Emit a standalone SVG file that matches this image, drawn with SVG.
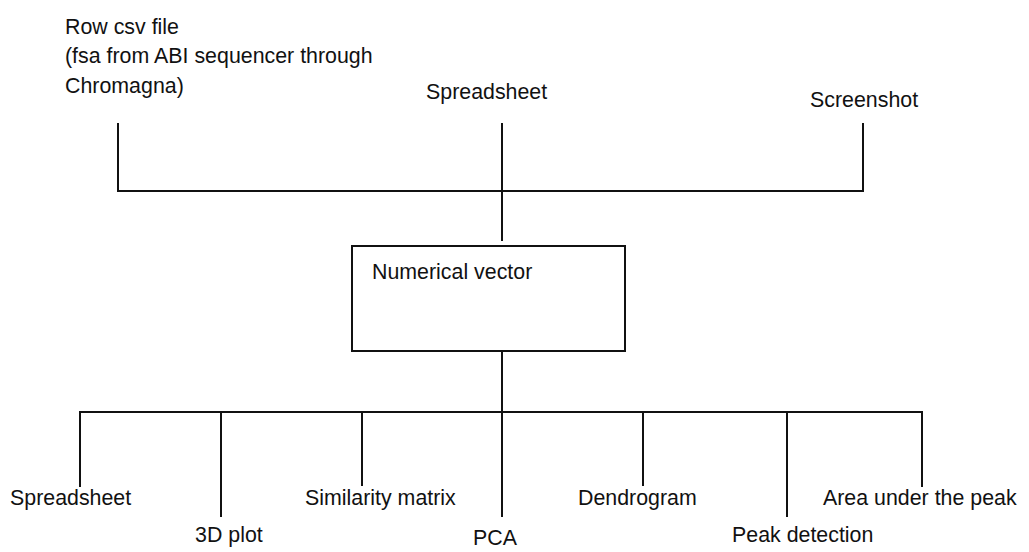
<svg xmlns="http://www.w3.org/2000/svg" width="1029" height="552" viewBox="0 0 1029 552">
<style>
text { font-family: "Liberation Sans", Arial, sans-serif; font-size: 22.5px; fill: #111; }
.ln { stroke: #111; stroke-width: 2; fill: none; }
.box { stroke: #111; stroke-width: 2; fill: #fff; }
</style>
<rect width="1029" height="552" fill="#fff"/>
<g id="connectors">
<path class="ln" d="M118,123 V191 H863 V123"/>
<path class="ln" d="M502,123 V241"/>
<path class="ln" d="M502,351 V412"/>
<path class="ln" d="M80,487 V412 H922 V487"/>
<path class="ln" d="M221,412 V517"/>
<path class="ln" d="M362,412 V486"/>
<path class="ln" d="M502,412 V517"/>
<path class="ln" d="M643,412 V486"/>
<path class="ln" d="M787,412 V517"/>
</g>
<g id="row-csv">
<text transform="translate(65,34) scale(0.95,1)">Row csv file</text>
<text transform="translate(65,63) scale(0.95,1)">(fsa from ABI sequencer through</text>
<text transform="translate(65,93) scale(0.95,1)">Chromagna)</text>
</g>
<g id="spreadsheet-top"><text transform="translate(426,99) scale(0.95,1)">Spreadsheet</text></g>
<g id="screenshot"><text transform="translate(810,107) scale(0.95,1)">Screenshot</text></g>
<g id="numerical-vector">
<rect class="box" x="352" y="246" width="273" height="105"/>
<text transform="translate(372,279) scale(0.95,1)">Numerical vector</text>
</g>
<g id="spreadsheet-bottom"><text transform="translate(10,505) scale(0.95,1)">Spreadsheet</text></g>
<g id="plot3d"><text transform="translate(195,542) scale(0.95,1)">3D plot</text></g>
<g id="similarity"><text transform="translate(305,505) scale(0.95,1)">Similarity matrix</text></g>
<g id="pca"><text transform="translate(473,545) scale(0.95,1)">PCA</text></g>
<g id="dendrogram"><text transform="translate(578,505) scale(0.95,1)">Dendrogram</text></g>
<g id="peak-detection"><text transform="translate(732,542) scale(0.95,1)">Peak detection</text></g>
<g id="area"><text transform="translate(823,505) scale(0.95,1)">Area under the peak</text></g>
</svg>
